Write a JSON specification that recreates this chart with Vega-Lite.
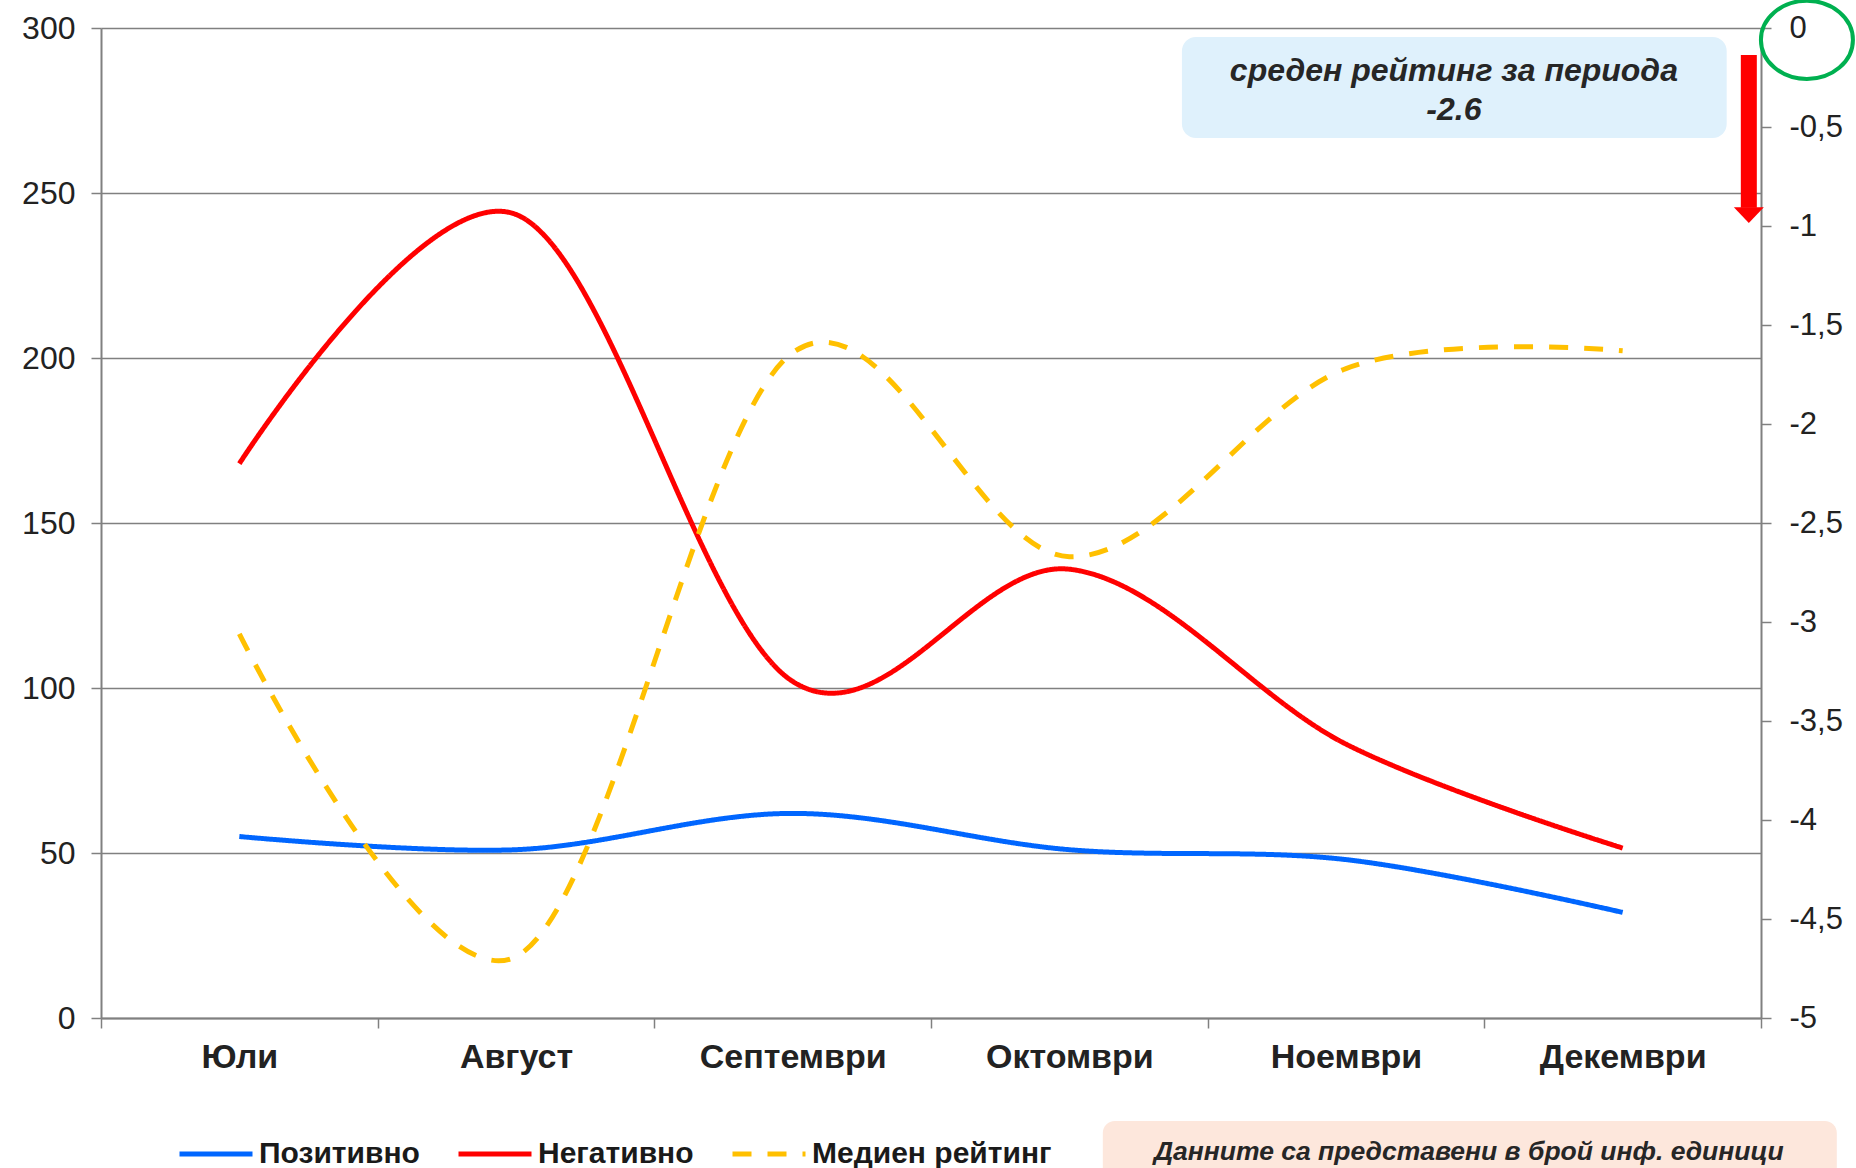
{
  "$schema": "https://vega.github.io/schema/vega-lite/v6.json",
  "width": 1660,
  "height": 990,
  "autosize": {"type": "none"},
  "padding": {"left": 101, "top": 28, "right": 95, "bottom": 150},
  "background": "white",
  "config": {"view": {"stroke": null}, "font": "Liberation Sans"},
  "datasets": {
    "series": [
      {"month": "Юли", "series": "Позитивно", "value": 55},
      {"month": "Август", "series": "Позитивно", "value": 51},
      {"month": "Септември", "series": "Позитивно", "value": 62},
      {"month": "Октомври", "series": "Позитивно", "value": 51},
      {"month": "Ноември", "series": "Позитивно", "value": 48},
      {"month": "Декември", "series": "Позитивно", "value": 32},
      {"month": "Юли", "series": "Негативно", "value": 168},
      {"month": "Август", "series": "Негативно", "value": 243.5},
      {"month": "Септември", "series": "Негативно", "value": 102},
      {"month": "Октомври", "series": "Негативно", "value": 136},
      {"month": "Ноември", "series": "Негативно", "value": 83},
      {"month": "Декември", "series": "Негативно", "value": 51.5},
      {"month": "Юли", "series": "Медиен рейтинг", "value": -3.06},
      {"month": "Август", "series": "Медиен рейтинг", "value": -4.69},
      {"month": "Септември", "series": "Медиен рейтинг", "value": -1.64},
      {"month": "Октомври", "series": "Медиен рейтинг", "value": -2.67},
      {"month": "Ноември", "series": "Медиен рейтинг", "value": -1.72},
      {"month": "Декември", "series": "Медиен рейтинг", "value": -1.63}
    ]
  },
  "layer": [
    {
      "data": {"name": "series"},
      "layer": [
        {
          "transform": [{"filter": "datum.series !== 'Медиен рейтинг'"}],
          "mark": {"type": "line", "interpolate": "cardinal", "strokeWidth": 5},
          "encoding": {
            "x": {
              "field": "month", "type": "nominal", "sort": null, "bandPosition": 0.5,
              "scale": {"type": "band", "paddingInner": 0, "paddingOuter": 0},
              "axis": {"title": null, "tickBand": "extent", "labelAngle": 0, "labelFontSize": 34, "labelFontWeight": "bold", "labelColor": "#222222", "labelPadding": 12, "labelLimit": 400, "labelOverlap": false, "tickSize": 10, "tickColor": "#808080", "tickWidth": 1.5, "domainColor": "#808080", "domainWidth": 2, "grid": false}
            },
            "y": {
              "field": "value", "type": "quantitative",
              "scale": {"domain": [0, 300], "nice": false, "zero": false},
              "axis": {"title": null, "orient": "left", "values": [0, 50, 100, 150, 200, 250, 300], "grid": true, "gridColor": "#808080", "gridWidth": 1.5, "domainColor": "#808080", "domainWidth": 2, "tickSize": 10, "tickColor": "#808080", "tickWidth": 1.5, "labelFontSize": 32, "labelColor": "#222222", "labelPadding": 16}
            },
            "color": {
              "field": "series", "type": "nominal",
              "scale": {"domain": ["Позитивно", "Негативно", "Медиен рейтинг"], "range": ["#0066ff", "#ff0000", "#ffc000"]},
              "legend": {"title": null, "orient": "none", "direction": "horizontal", "legendX": 76, "legendY": 1087, "padding": 0, "symbolType": "stroke", "symbolSize": 5329, "symbolStrokeWidth": 5, "labelFontSize": 30, "labelFontWeight": "bold", "labelColor": "#1a1a1a", "labelLimit": 400, "labelOffset": 4, "columnPadding": 28}
            },
            "strokeDash": {
              "field": "series", "type": "nominal",
              "scale": {"domain": ["Позитивно", "Негативно", "Медиен рейтинг"], "range": [[1, 0], [1, 0], [19, 16]]},
              "legend": {"title": null, "orient": "none", "direction": "horizontal", "legendX": 76, "legendY": 1087, "padding": 0, "symbolType": "stroke", "symbolSize": 5329, "symbolStrokeWidth": 5, "labelFontSize": 30, "labelFontWeight": "bold", "labelColor": "#1a1a1a", "labelLimit": 400, "labelOffset": 4, "columnPadding": 28}
            }
          }
        },
        {
          "transform": [{"filter": "datum.series === 'Медиен рейтинг'"}],
          "mark": {"type": "line", "interpolate": "cardinal", "strokeWidth": 5},
          "encoding": {
            "x": {
              "field": "month", "type": "nominal", "sort": null, "bandPosition": 0.5,
              "scale": {"type": "band", "paddingInner": 0, "paddingOuter": 0},
              "axis": {"title": null, "tickBand": "extent", "labelAngle": 0, "labelFontSize": 34, "labelFontWeight": "bold", "labelColor": "#222222", "labelPadding": 12, "labelLimit": 400, "labelOverlap": false, "tickSize": 10, "tickColor": "#808080", "tickWidth": 1.5, "domainColor": "#808080", "domainWidth": 2, "grid": false}
            },
            "y": {
              "field": "value", "type": "quantitative",
              "scale": {"domain": [-5, 0], "nice": false, "zero": false},
              "axis": {"title": null, "orient": "right", "values": [0, -0.5, -1, -1.5, -2, -2.5, -3, -3.5, -4, -4.5, -5], "labelExpr": "replace('' + datum.value, '.', ',')", "grid": false, "domainColor": "#808080", "domainWidth": 2, "tickSize": 10, "tickColor": "#808080", "tickWidth": 1.5, "labelFontSize": 31, "labelColor": "#222222", "labelPadding": 18}
            },
            "color": {"field": "series", "type": "nominal"},
            "strokeDash": {"field": "series", "type": "nominal"}
          }
        }
      ],
      "resolve": {"scale": {"y": "independent"}}
    },
    {
      "data": {"values": [{"note": "среден рейтинг за периода", "avg": "-2.6", "footer": "Данните са представени в брой инф. единици"}]},
      "layer": [
        {
          "mark": {"type": "rect", "color": "#dff1fc", "cornerRadius": 14},
          "encoding": {
            "x": {"datum": 3.907, "type": "quantitative", "scale": {"domain": [0, 6]}, "axis": null},
            "x2": {"datum": 5.876},
            "y": {"datum": 297.3, "type": "quantitative", "scale": {"domain": [0, 300]}, "axis": null},
            "y2": {"datum": 266.7}
          }
        },
        {
          "mark": {"type": "text", "fontSize": 32, "fontWeight": "bold", "fontStyle": "italic", "color": "#262626", "align": "center", "baseline": "middle"},
          "encoding": {
            "x": {"datum": 4.89, "type": "quantitative", "scale": {"domain": [0, 6]}, "axis": null},
            "y": {"datum": 287, "type": "quantitative", "scale": {"domain": [0, 300]}, "axis": null},
            "text": {"field": "note"}
          }
        },
        {
          "mark": {"type": "text", "fontSize": 32, "fontWeight": "bold", "fontStyle": "italic", "color": "#262626", "align": "center", "baseline": "middle"},
          "encoding": {
            "x": {"datum": 4.89, "type": "quantitative", "scale": {"domain": [0, 6]}, "axis": null},
            "y": {"datum": 275.2, "type": "quantitative", "scale": {"domain": [0, 300]}, "axis": null},
            "text": {"field": "avg"}
          }
        },
        {
          "mark": {"type": "rule", "color": "#ff0000", "strokeWidth": 16},
          "encoding": {
            "x": {"datum": 5.956, "type": "quantitative", "scale": {"domain": [0, 6]}, "axis": null},
            "y": {"datum": 291.8, "type": "quantitative", "scale": {"domain": [0, 300]}, "axis": null},
            "y2": {"datum": 245.5}
          }
        },
        {
          "mark": {"type": "point", "shape": "M-1,-0.53L1,-0.53L0,0.53Z", "filled": true, "color": "#ff0000", "opacity": 1, "size": 900, "strokeWidth": 0},
          "encoding": {
            "x": {"datum": 5.956, "type": "quantitative", "scale": {"domain": [0, 6]}, "axis": null},
            "y": {"datum": 243.3, "type": "quantitative", "scale": {"domain": [0, 300]}, "axis": null}
          }
        },
        {
          "mark": {"type": "point", "shape": "M-1,0A1,0.85,0,1,1,1,0A1,0.85,0,1,1,-1,0Z", "filled": false, "color": "#00b050", "opacity": 1, "size": 8464, "strokeWidth": 4},
          "encoding": {
            "x": {"datum": 6.166, "type": "quantitative", "scale": {"domain": [0, 6]}, "axis": null},
            "y": {"datum": 296.4, "type": "quantitative", "scale": {"domain": [0, 300]}, "axis": null}
          }
        },
        {
          "mark": {"type": "rect", "color": "#fde7dc", "cornerRadius": 12},
          "encoding": {
            "x": {"datum": 3.621, "type": "quantitative", "scale": {"domain": [0, 6]}, "axis": null},
            "x2": {"datum": 6.274},
            "y": {"datum": -31.2, "type": "quantitative", "scale": {"domain": [0, 300]}, "axis": null},
            "y2": {"datum": -60}
          }
        },
        {
          "mark": {"type": "text", "fontSize": 26.5, "fontWeight": "bold", "fontStyle": "italic", "color": "#262626", "align": "center", "baseline": "middle"},
          "encoding": {
            "x": {"datum": 4.944, "type": "quantitative", "scale": {"domain": [0, 6]}, "axis": null},
            "y": {"datum": -40.6, "type": "quantitative", "scale": {"domain": [0, 300]}, "axis": null},
            "text": {"field": "footer"}
          }
        }
      ]
    }
  ],
  "resolve": {"scale": {"x": "independent", "y": "independent"}}
}
